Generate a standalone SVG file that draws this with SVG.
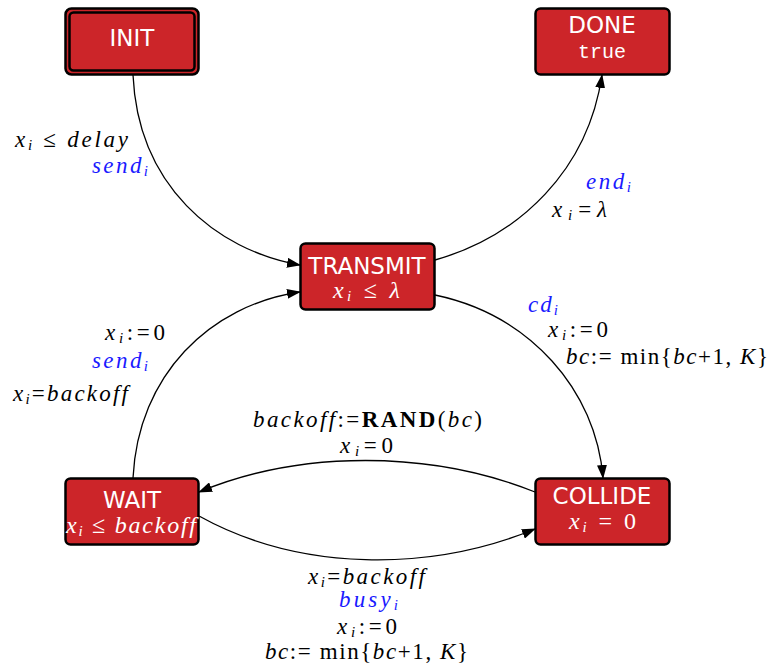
<svg xmlns="http://www.w3.org/2000/svg" width="773" height="671" viewBox="0 0 773 671">
<defs>
<marker id="ah" markerWidth="14" markerHeight="10" refX="13" refY="5" orient="auto" markerUnits="userSpaceOnUse">
<path d="M0,0 L14,5 L0,10 Z" fill="#000"/>
</marker>
<style>
.node rect{fill:#cc2529;stroke:#000;stroke-width:2.5}
.nt{font-family:"DejaVu Sans",sans-serif;font-size:23px;fill:#fff;text-anchor:middle}
.nm{font-family:"Liberation Serif",serif;font-size:24px;fill:#fff}
.tt{font-family:"Liberation Mono",monospace;font-size:20px;fill:#fff;text-anchor:middle}
.m{font-family:"Liberation Serif",serif;font-size:23px;fill:#000}
.b{fill:#1a1aff}
.i{font-style:italic}
.s{font-size:15px;font-style:italic}
.e{fill:none;stroke:#000;stroke-width:1.3}
</style>
</defs>
<g id="edges">
<path class="e" d="M133,75 C138,185 215,250 300,265" marker-end="url(#ah)"/>
<path class="e" d="M435,260 C520,236 588,170 602,75" marker-end="url(#ah)"/>
<path class="e" d="M435,295 C530,315 596,390 603,478" marker-end="url(#ah)"/>
<path class="e" d="M133,478 C138,375 210,305 300,292" marker-end="url(#ah)"/>
<path class="e" d="M535,492 C430,450 300,450 199,492" marker-end="url(#ah)"/>
<path class="e" d="M199,516 C300,572 430,572 535,529" marker-end="url(#ah)"/>
</g>
<g id="INIT" class="node">
<rect x="65.5" y="8.5" width="133" height="66" rx="6"/>
<rect x="69.5" y="12.5" width="125" height="58" rx="4"/>
<text class="nt" x="132" y="46">INIT</text>
</g>
<g id="DONE" class="node">
<rect x="535.5" y="8.5" width="134" height="66" rx="5"/>
<text class="nt" x="602" y="33">DONE</text>
<text class="tt" x="602" y="58">true</text>
</g>
<g id="TRANSMIT" class="node">
<rect x="300.5" y="243.5" width="134" height="66" rx="5"/>
<text class="nt" x="367" y="274">TRANSMIT</text>
<text class="nm" x="333" y="298" textLength="67" lengthAdjust="spacing"><tspan class="i">x</tspan><tspan class="s" dy="3">i</tspan><tspan dy="-3"> ≤ </tspan><tspan class="i">λ</tspan></text>
</g>
<g id="WAIT" class="node">
<rect x="65.5" y="478.5" width="133" height="66" rx="5"/>
<text class="nt" x="132" y="508">WAIT</text>
<text class="nm" x="66" y="533" textLength="130" lengthAdjust="spacing"><tspan class="i">x</tspan><tspan class="s" dy="3">i</tspan><tspan dy="-3"> ≤ </tspan><tspan class="i">backoff</tspan></text>
</g>
<g id="COLLIDE" class="node">
<rect x="535.5" y="478.5" width="134" height="66" rx="5"/>
<text class="nt" x="602" y="504">COLLIDE</text>
<text class="nm" x="569" y="529" textLength="67" lengthAdjust="spacing"><tspan class="i">x</tspan><tspan class="s" dy="3">i</tspan><tspan dy="-3"> = 0</tspan></text>
</g>
<g id="labels">
<text class="m" x="15" y="147" textLength="113" lengthAdjust="spacing"><tspan class="i">x</tspan><tspan class="s" dy="3">i</tspan><tspan dy="-3"> ≤ </tspan><tspan class="i">delay</tspan></text>
<text class="m b" x="92" y="173" textLength="56" lengthAdjust="spacing"><tspan class="i">send</tspan><tspan class="s" dy="3">i</tspan></text>
<text class="m b" x="586" y="189" textLength="45" lengthAdjust="spacing"><tspan class="i">end</tspan><tspan class="s" dy="3">i</tspan></text>
<text class="m" x="552" y="217" textLength="55" lengthAdjust="spacing"><tspan class="i">x</tspan><tspan class="s" dy="3">i</tspan><tspan dy="-3">=</tspan><tspan class="i">λ</tspan></text>
<text class="m b" x="528" y="312" textLength="30" lengthAdjust="spacing"><tspan class="i">cd</tspan><tspan class="s" dy="3">i</tspan></text>
<text class="m" x="548" y="337" textLength="60" lengthAdjust="spacing"><tspan class="i">x</tspan><tspan class="s" dy="3">i</tspan><tspan dy="-3">:=0</tspan></text>
<text class="m" x="566" y="364" textLength="202" lengthAdjust="spacing"><tspan class="i">bc</tspan>:= min{<tspan class="i">bc</tspan>+1, <tspan class="i">K</tspan>}</text>
<text class="m" x="105" y="340" textLength="60" lengthAdjust="spacing"><tspan class="i">x</tspan><tspan class="s" dy="3">i</tspan><tspan dy="-3">:=0</tspan></text>
<text class="m b" x="92" y="368" textLength="56" lengthAdjust="spacing"><tspan class="i">send</tspan><tspan class="s" dy="3">i</tspan></text>
<text class="m" x="13" y="401" textLength="115" lengthAdjust="spacing"><tspan class="i">x</tspan><tspan class="s" dy="3">i</tspan><tspan dy="-3">=</tspan><tspan class="i">backoff</tspan></text>
<text class="m" x="253" y="427" textLength="229" lengthAdjust="spacing"><tspan class="i">backoff</tspan>:=<tspan font-weight="bold">RAND</tspan>(<tspan class="i">bc</tspan>)</text>
<text class="m" x="340" y="453" textLength="53" lengthAdjust="spacing"><tspan class="i">x</tspan><tspan class="s" dy="3">i</tspan><tspan dy="-3">=0</tspan></text>
<text class="m" x="308" y="584" textLength="117" lengthAdjust="spacing"><tspan class="i">x</tspan><tspan class="s" dy="3">i</tspan><tspan dy="-3">=</tspan><tspan class="i">backoff</tspan></text>
<text class="m b" x="339" y="607" textLength="59" lengthAdjust="spacing"><tspan class="i">busy</tspan><tspan class="s" dy="3">i</tspan></text>
<text class="m" x="337" y="634" textLength="60" lengthAdjust="spacing"><tspan class="i">x</tspan><tspan class="s" dy="3">i</tspan><tspan dy="-3">:=0</tspan></text>
<text class="m" x="265" y="659" textLength="203" lengthAdjust="spacing"><tspan class="i">bc</tspan>:= min{<tspan class="i">bc</tspan>+1, <tspan class="i">K</tspan>}</text>
</g>
</svg>
